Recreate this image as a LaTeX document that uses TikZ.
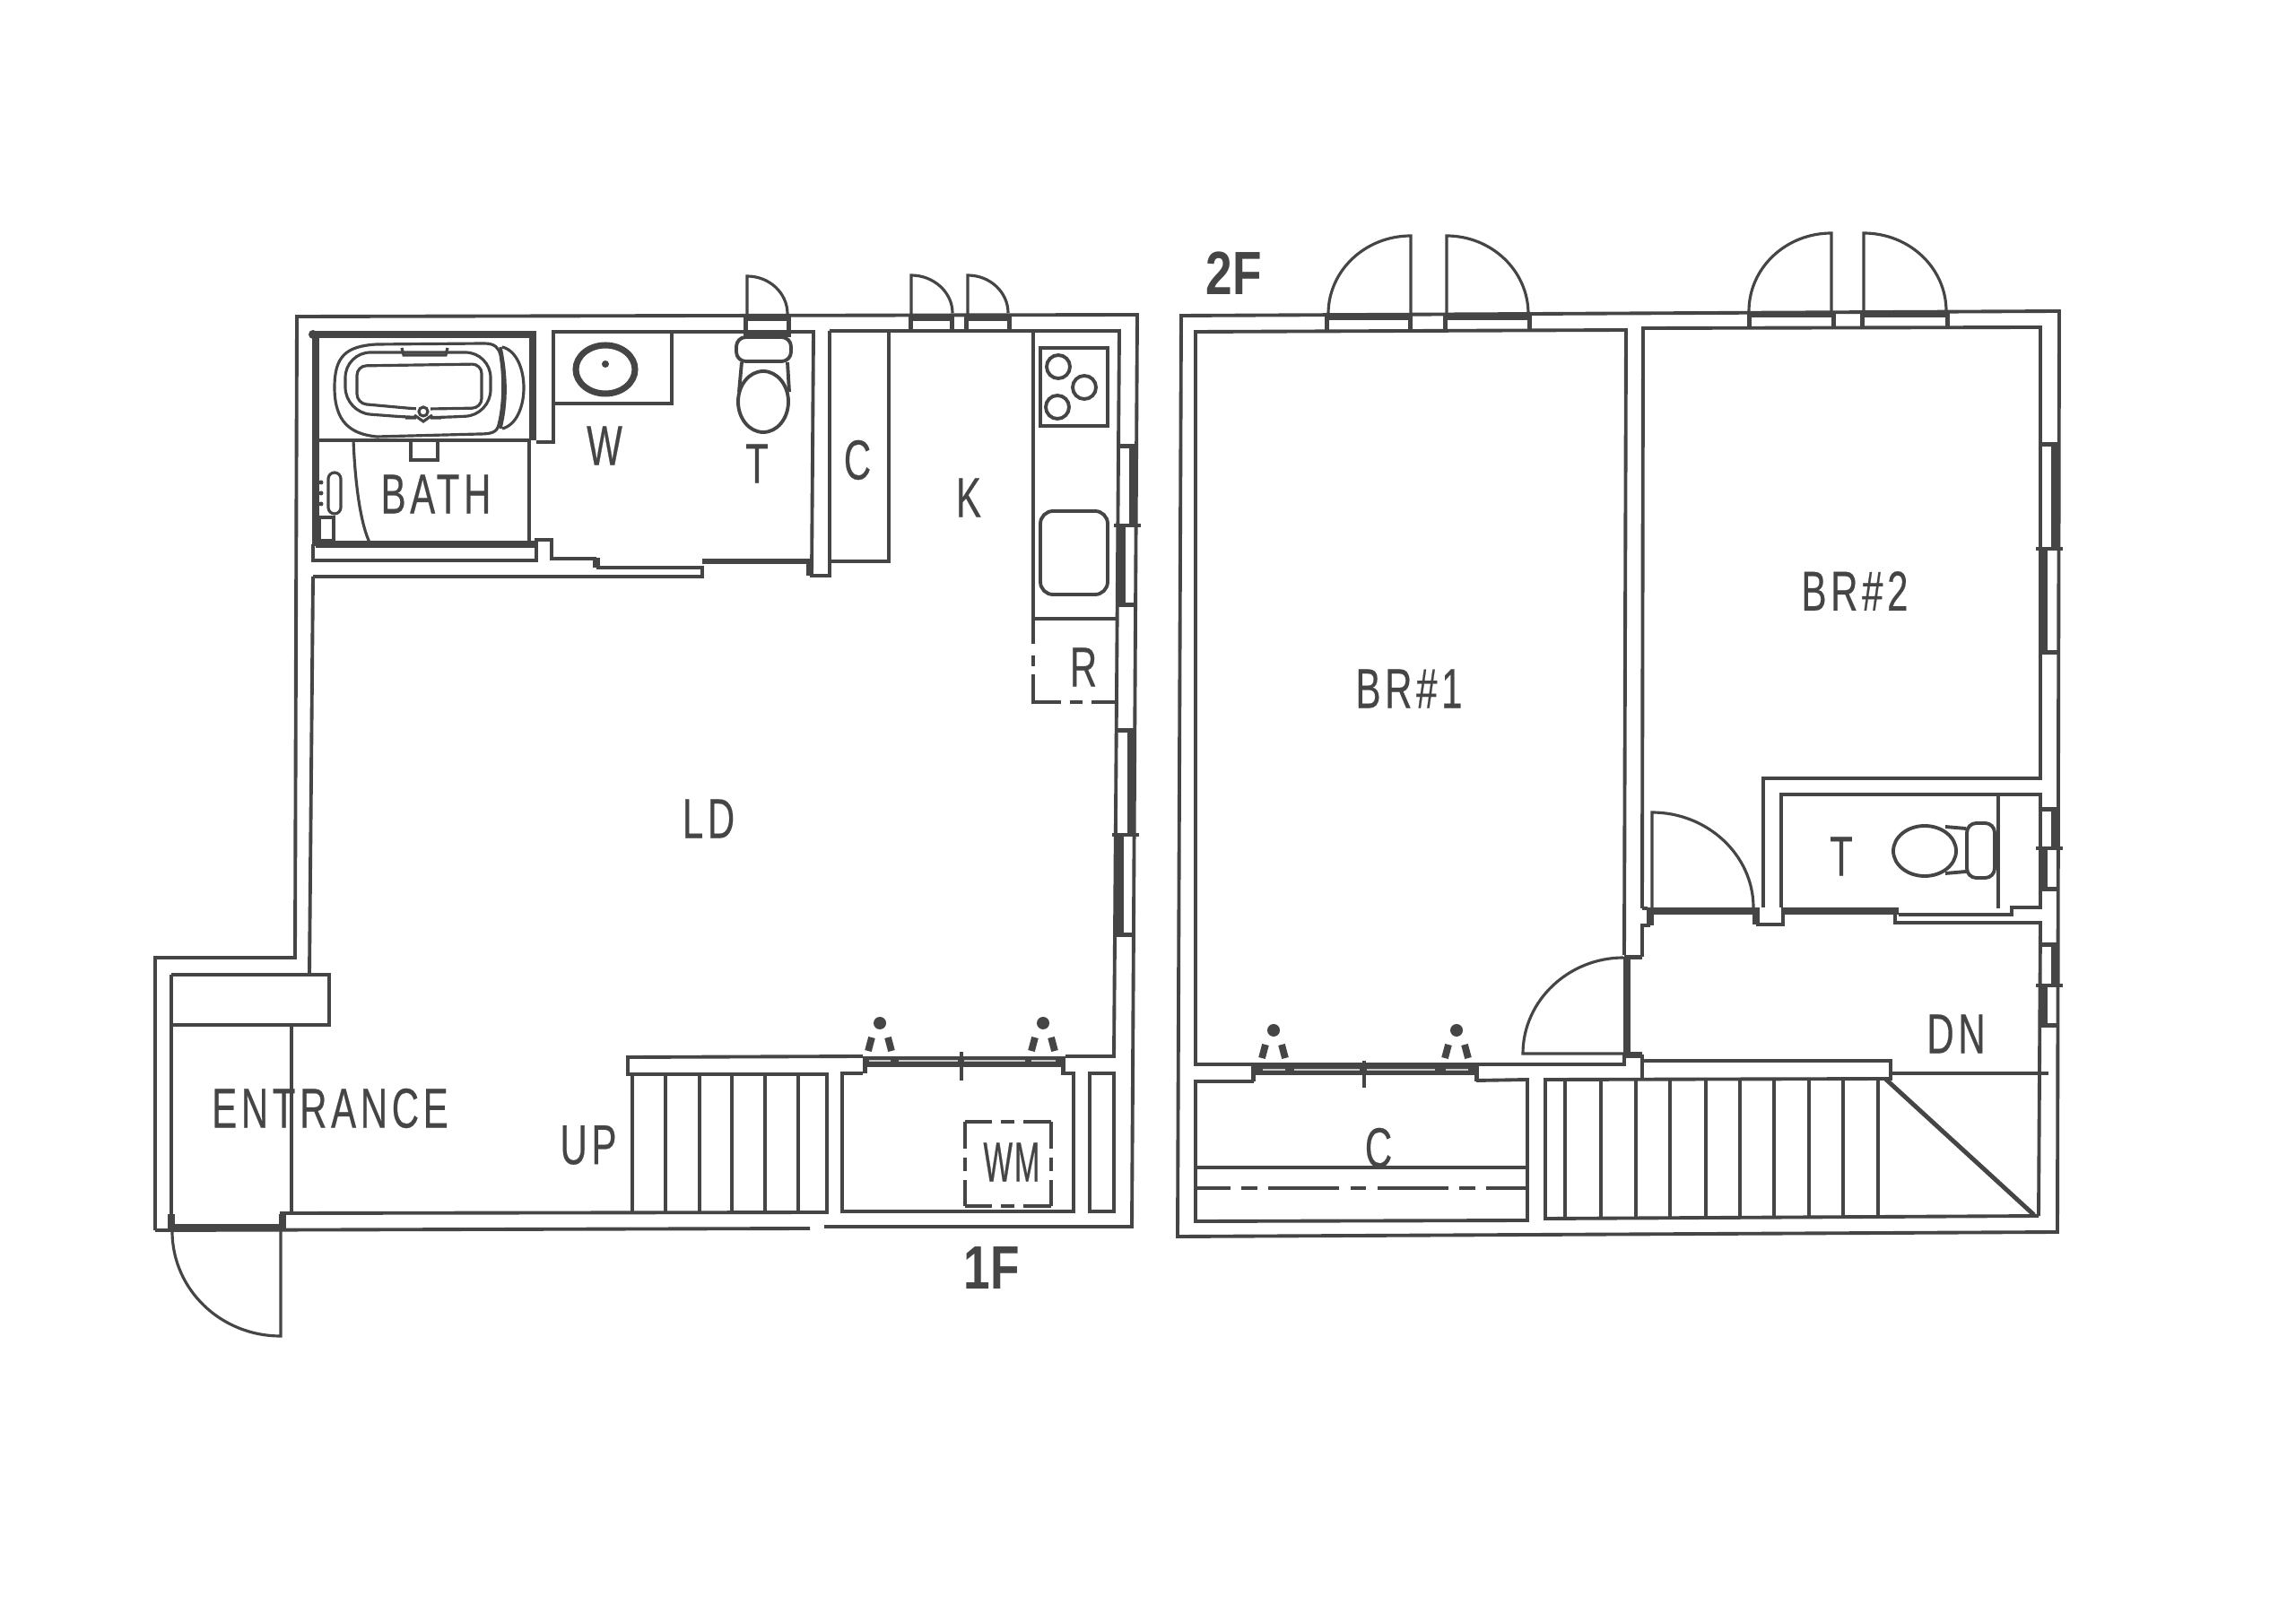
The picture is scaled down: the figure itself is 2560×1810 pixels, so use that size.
\documentclass[tikz,border=0pt]{standalone}
\usepackage{fontspec}
\newfontfamily\planfont[FakeStretch=0.67,LetterSpace=7.5,FakeBold=0.35]{Liberation Sans}
\newfontfamily\planfontnarrow[FakeStretch=0.55,LetterSpace=3,FakeBold=0.35]{Liberation Sans}
\newfontfamily\floorfont[FakeStretch=0.78]{Liberation Sans}
\definecolor{planink}{gray}{0.27}
\tikzset{
wallline/.style={draw=planink, line width=1.1pt},
fineline/.style={draw=planink, line width=.9pt},
heavyline/.style={draw=planink, line width=2.2pt},
doorline/.style={draw=planink, line width=.9pt},
roomlabel/.style={text=planink, inner sep=0pt, font=\planfont\fontsize{17.8}{18}\selectfont},
narrowlabel/.style={text=planink, inner sep=0pt, font=\planfontnarrow\fontsize{17.8}{18}\selectfont},
floorlabel/.style={text=planink, inner sep=0pt, font=\floorfont\bfseries\fontsize{19.4}{20}\selectfont},
}
% top band and two posts of a door in a horizontal wall
\newcommand{\doorframe}[4]{
    \fill[planink] (#1,#3) rectangle (#2,#3+7);
    \fill[planink] (#1,#3) rectangle (#1+5,#4);
    \fill[planink] (#2-5,#3) rectangle (#2,#4);
}
% window in a vertical wall
\newcommand{\sashwindow}[5]{
    \fill[planink] (#1,#3) rectangle (#2,#3+5);
    \fill[planink] (#2-8,#3) rectangle (#2,#4);
    \fill[planink] (#1,#4) rectangle (#1+8,#5);
    \fill[planink] (#1,#5-5) rectangle (#2,#5);
    \draw[wallline] (#1-5,#4) -- (#2+5,#4);
}
\newcommand{\spraymark}[2]{
    \fill[planink] (#1,#2) circle [radius=7];
    \draw[draw=planink, line width=2.2pt] (#1-9,#2+16) -- (#1-13,#2+31) (#1+9,#2+16) -- (#1+13,#2+31);
}
\begin{document}
\begin{tikzpicture}[x=0.01cm,y=-0.01cm]
    \path[fill=white,use as bounding box] (0,0) rectangle (2560,1810);
    % 1F
    \draw[wallline] (173,1372) -- (173,1068) -- (329,1068) -- (331,353) -- (1268,351) -- (1262,1368) -- (919,1368);
    \draw[wallline] (903,1370) -- (173,1372);
    \draw[wallline] (925,369) -- (1248,369) -- (1242,1178) -- (1188,1178);
    \draw[wallline] (962,1178) -- (700,1179) -- (700,1198) -- (922,1198) -- (922,1352) -- (314,1353) -- (314,1372);
    \draw[wallline] (349,643) -- (345,1087) -- (367,1087) -- (367,1143) -- (191,1143);
    \draw[wallline] (191,1087) -- (345,1087);
    \draw[wallline] (191,1087) -- (191,1372);
    \draw[wallline] (325,1143) -- (325,1352);
    \draw[heavyline] (191,1354) -- (191,1372);
    \draw[heavyline] (191,1369) -- (316,1369);
    \draw[heavyline] (315,1354) -- (315,1372);
    \draw[doorline] (313,1372) -- (313,1490) .. controls (246,1490) and (192,1438) .. (192,1373);
    % bath
    \draw[heavyline] (352,609) -- (352,373) -- (594,373) -- (594,491);
    \draw[heavyline] (352,607) -- (598,607);
    \fill[planink] (349,373) circle [radius=5];
    \draw[wallline] (590,491) -- (590,607);
    \draw[wallline] (356,491) -- (590,491);
    \draw[wallline] (349,607) -- (349,625) -- (598,625) -- (598,602) -- (615,602) -- (615,623) -- (665,623);
    \draw[heavyline] (665,622) -- (665,633);
    \draw[wallline] (665,633) -- (783,633) -- (783,643) -- (349,643);
    \draw[wallline] (598,493) -- (617,493) -- (617,370) -- (907,370) -- (905,642) -- (925,642) -- (925,369);
    \draw[heavyline, line width=1.8pt] (783,626) -- (903,626);
    \draw[heavyline] (903,624) -- (903,642);
    \draw[fineline] (373,432) .. controls (373,398) and (385,386) .. (420,384) -- (540,383) .. controls (552,383) and (556,388) .. (558,396) .. controls (562,420) and (562,450) .. (556,474) .. controls (554,482) and (548,484) .. (535,484) -- (420,487) .. controls (390,484) and (373,470) .. (373,432) -- cycle;
    \draw[fineline, rounded corners=8pt] (385,393) -- (547,393) -- (547,463) -- (480,466) -- (464,466) -- (385,460) -- cycle;
    \draw[fineline, rounded corners=3pt] (398,408) -- (537,406) -- (537,455) -- (480,456) -- (464,456) -- (398,450) -- cycle;
    \fill[white] (464,452) rectangle (480,468);
    \draw[fineline] (472,459) circle [radius=5];
    \draw[fineline] (462,463) -- (472,470) -- (482,463);
    \draw[fineline] (448,388) -- (450,396) -- (497,396) -- (499,388);
    \draw[fineline] (560,387) .. controls (592,395) and (592,470) .. (560,478);
    \draw[fineline] (558,387) .. controls (565,420) and (565,450) .. (558,478);
    \draw[fineline] (458,491) -- (458,513) -- (488,513) -- (488,491);
    \draw[fineline] (394,491) .. controls (396,540) and (402,585) .. (413,607);
    \draw[fineline, rounded corners=2pt] (366,527) rectangle (380,573);
    \draw[fineline] (356,577) rectangle (372,603);
    \fill[planink] (358,538) circle [radius=2.5] (358,550) circle [radius=2.5] (358,562) circle [radius=2.5];
    \node[roomlabel] (bath) at (486,551) {BATH};
    % washroom and toilet
    \draw[wallline] (617,450) -- (749,450) -- (749,370);
    \draw[draw=planink, line width=2pt] (675,412) ellipse [x radius=33, y radius=27];
    \fill[planink] (675,406) circle [radius=4];
    \node[roomlabel] (wash) at (674,497) {W};
    \doorframe{829}{882}{351}{376}
    \fill[planink] (829,369) rectangle (882,376);
    \draw[doorline] (833,352) -- (833,308) .. controls (858,308) and (878,327) .. (878,350);
    \draw[wallline, rounded corners=3pt] (821,376) rectangle (882,403);
    \draw[wallline] (827,404) -- (824,437) (878,404) -- (880,437);
    \draw[wallline] (851,448) ellipse [x radius=28, y radius=34];
    \node[roomlabel] (toilet) at (844,517) {T};
    % closet and kitchen
    \draw[wallline] (925,626) -- (991,626) -- (991,369);
    \node[roomlabel] (closet) at (956,513) {C};
    \node[roomlabel] (kitchen) at (1080,555) {K};
    \doorframe{1013}{1064}{351}{369}
    \doorframe{1075}{1128}{351}{369}
    \draw[doorline] (1016,352) -- (1016,307) .. controls (1041,307) and (1062,326) .. (1062,349);
    \draw[doorline] (1079,352) -- (1079,307) .. controls (1104,307) and (1124,326) .. (1124,349);
    \draw[wallline] (1152,369) -- (1152,718) (1152,731) -- (1152,743) (1152,752) -- (1152,783) -- (1183,783) (1193,783) -- (1207,783) (1217,783) -- (1245,783);
    \draw[wallline] (1152,690) -- (1246,690);
    \draw[wallline] (1160,388) rectangle (1235,475);
    \draw[wallline] (1180,409) circle [radius=13];
    \draw[wallline] (1209,432) circle [radius=13];
    \draw[wallline] (1179,454) circle [radius=13];
    \draw[wallline, rounded corners=4pt] (1160,570) rectangle (1235,663);
    \node[roomlabel] (fridge) at (1208,744) {R};
    \sashwindow{1247}{1267}{495}{586}{677}
    \sashwindow{1245}{1265}{812}{931}{1045}
    % living room and entrance
    \node[roomlabel] (living) at (790,913) {LD};
    \node[roomlabel] (entrance) at (368,1236) {ENTRANCE};
    \node[roomlabel] (upfirst) at (656,1277) {UP};
    \draw[wallline] (705,1198) -- (705,1352) (742,1198) -- (742,1352) (780,1198) -- (780,1352) (816,1198) -- (816,1352) (853,1198) -- (853,1352) (890,1198) -- (890,1352);
    % laundry
    \draw[wallline] (962,1197) -- (939,1197) -- (939,1351) -- (1197,1351) -- (1197,1197) -- (1183,1197);
    \fill[planink] (962,1178) rectangle (1188,1190);
    \fill[planink] (962,1178) rectangle (967,1197);
    \fill[planink] (1183,1178) rectangle (1188,1197);
    \draw[white!70!planink, line width=.3pt] (969,1183) -- (993,1183) (1002,1183) -- (1068,1183) (1075,1183) -- (1143,1183) (1150,1183) -- (1177,1183);
    \draw[wallline] (1072,1173) -- (1072,1205);
    \spraymark{981}{1141}
    \spraymark{1163}{1141}
    \draw[wallline] (1215,1197) rectangle (1242,1351);
    \draw[wallline, dash pattern=on 17pt off 2.85pt on 4.3pt off 2.85pt, dash phase=8.5pt] (1076,1251) -- (1172,1251) (1076,1345) -- (1172,1345) (1076,1251) -- (1076,1345) (1172,1251) -- (1172,1345);
    \node[narrowlabel] (washer) at (1128,1296) {WM};
    \node[floorlabel] (first) at (1106,1414) {1F};
    % 2F
    \draw[wallline] (1317,352) -- (2296,347) -- (2294,1374) -- (1313,1379) -- cycle;
    \node[floorlabel] (second) at (1376,305) {2F};
    \draw[wallline] (1811,1065) -- (1813,368) -- (1333,370) -- (1333,1187) -- (1811,1187) -- (1811,1176);
    \draw[wallline] (1831,1013) -- (1832,366) -- (2275,365) -- (2275,868) -- (1966,868) -- (1966,1012);
    \draw[wallline] (1831,1013) -- (1837,1013);
    \doorframe{1477}{1575}{350}{368}
    \doorframe{1609}{1708}{350}{368}
    \doorframe{1948}{2047}{347}{366}
    \doorframe{2074}{2174}{347}{366}
    \draw[doorline] (1573,350) -- (1573,263) .. controls (1522,263) and (1481,302) .. (1481,350);
    \draw[doorline] (1613,350) -- (1613,263) .. controls (1663,263) and (1704,302) .. (1704,350);
    \draw[doorline] (2042,347) -- (2042,260) .. controls (1991,260) and (1950,299) .. (1950,347);
    \draw[doorline] (2078,347) -- (2078,260) .. controls (2129,260) and (2170,299) .. (2170,347);
    \sashwindow{2275}{2295}{493}{612}{730}
    \sashwindow{2275}{2295}{900}{946}{994}
    \sashwindow{2275}{2295}{1051}{1099}{1146}
    \node[roomlabel] (bedone) at (1571,768) {BR\#1};
    \node[roomlabel] (bedtwo) at (2068,659) {BR\#2};
    % hall and toilet
    \draw[heavyline] (1837,1016) -- (1961,1016);
    \draw[heavyline] (1840,1012) -- (1840,1032);
    \draw[wallline] (1840,1032) -- (1831,1032) -- (1831,1067);
    \draw[doorline] (1842,1012) -- (1842,906) .. controls (1904,906) and (1955,954) .. (1955,1012);
    \draw[heavyline] (1958,1012) -- (1958,1031);
    \draw[wallline] (1958,1031) -- (1988,1031) -- (1988,1012);
    \draw[wallline] (1986,1012) -- (1986,886) -- (2275,886) -- (2275,1012) -- (2243,1012) -- (2243,1020) -- (2117,1020);
    \draw[heavyline] (1986,1016) -- (2117,1016);
    \draw[wallline] (2113,1020) -- (2113,1029) -- (2275,1029) -- (2273,1356);
    \draw[wallline] (2228,886) -- (2228,1013);
    \draw[wallline, rounded corners=3pt] (2193,918) rectangle (2224,979);
    \draw[wallline] (2169,922) -- (2192,924) (2169,974) -- (2192,972);
    \draw[wallline, fill=white] (2146,949) ellipse [x radius=35, y radius=28];
    \node[roomlabel] (toilettwo) at (2053,955) {T};
    \node[roomlabel] (down) at (2181,1153) {DN};
    % bedroom door and thick wall
    \draw[heavyline] (1814,1067) -- (1814,1176);
    \fill[planink] (1811,1065) rectangle (1831,1070);
    \fill[planink] (1811,1173) rectangle (1831,1180);
    \draw[wallline] (1831,1176) -- (1831,1203);
    \draw[fineline] (1810,1175) -- (1698,1175) .. controls (1698,1116) and (1749,1068) .. (1810,1068);
    % storage
    \draw[wallline] (1398,1206) -- (1333,1206) -- (1333,1362) -- (1703,1361) -- (1703,1204) -- (1646,1205);
    \fill[planink] (1395,1188) rectangle (1649,1199);
    \fill[planink] (1395,1188) rectangle (1400,1206);
    \fill[planink] (1644,1188) rectangle (1649,1206);
    \draw[white!70!planink, line width=.3pt] (1408,1193) -- (1433,1193) (1443,1193) -- (1516,1193) (1524,1193) -- (1600,1193) (1612,1193) -- (1637,1193);
    \draw[wallline] (1521,1183) -- (1521,1213);
    \spraymark{1420}{1149}
    \spraymark{1624}{1149}
    \draw[wallline] (1333,1302) -- (1703,1302);
    \draw[wallline, dash pattern=on 22.5pt off 3.5pt on 5pt off 3.5pt, dash phase=11.4pt] (1333,1325) -- (1703,1325);
    \node[roomlabel] (closettwo) at (1537,1280) {C};
    % stairs
    \draw[wallline] (1831,1183) -- (2108,1183) -- (2108,1203) -- (1723,1204) -- (1723,1359) -- (2273,1356);
    \draw[wallline] (2108,1197) -- (2284,1197);
    \draw[wallline] (1745,1204) -- (1745,1359) (1785,1204) -- (1785,1359) (1824,1204) -- (1824,1359) (1862,1204) -- (1862,1358) (1902,1204) -- (1902,1358) (1940,1204) -- (1940,1358) (1978,1204) -- (1978,1358) (2017,1204) -- (2017,1358) (2055,1204) -- (2055,1358) (2094,1204) -- (2094,1358);
    \draw[draw=planink, line width=1.4pt] (2102,1203) -- (2268,1355);
\end{tikzpicture}
\end{document}
